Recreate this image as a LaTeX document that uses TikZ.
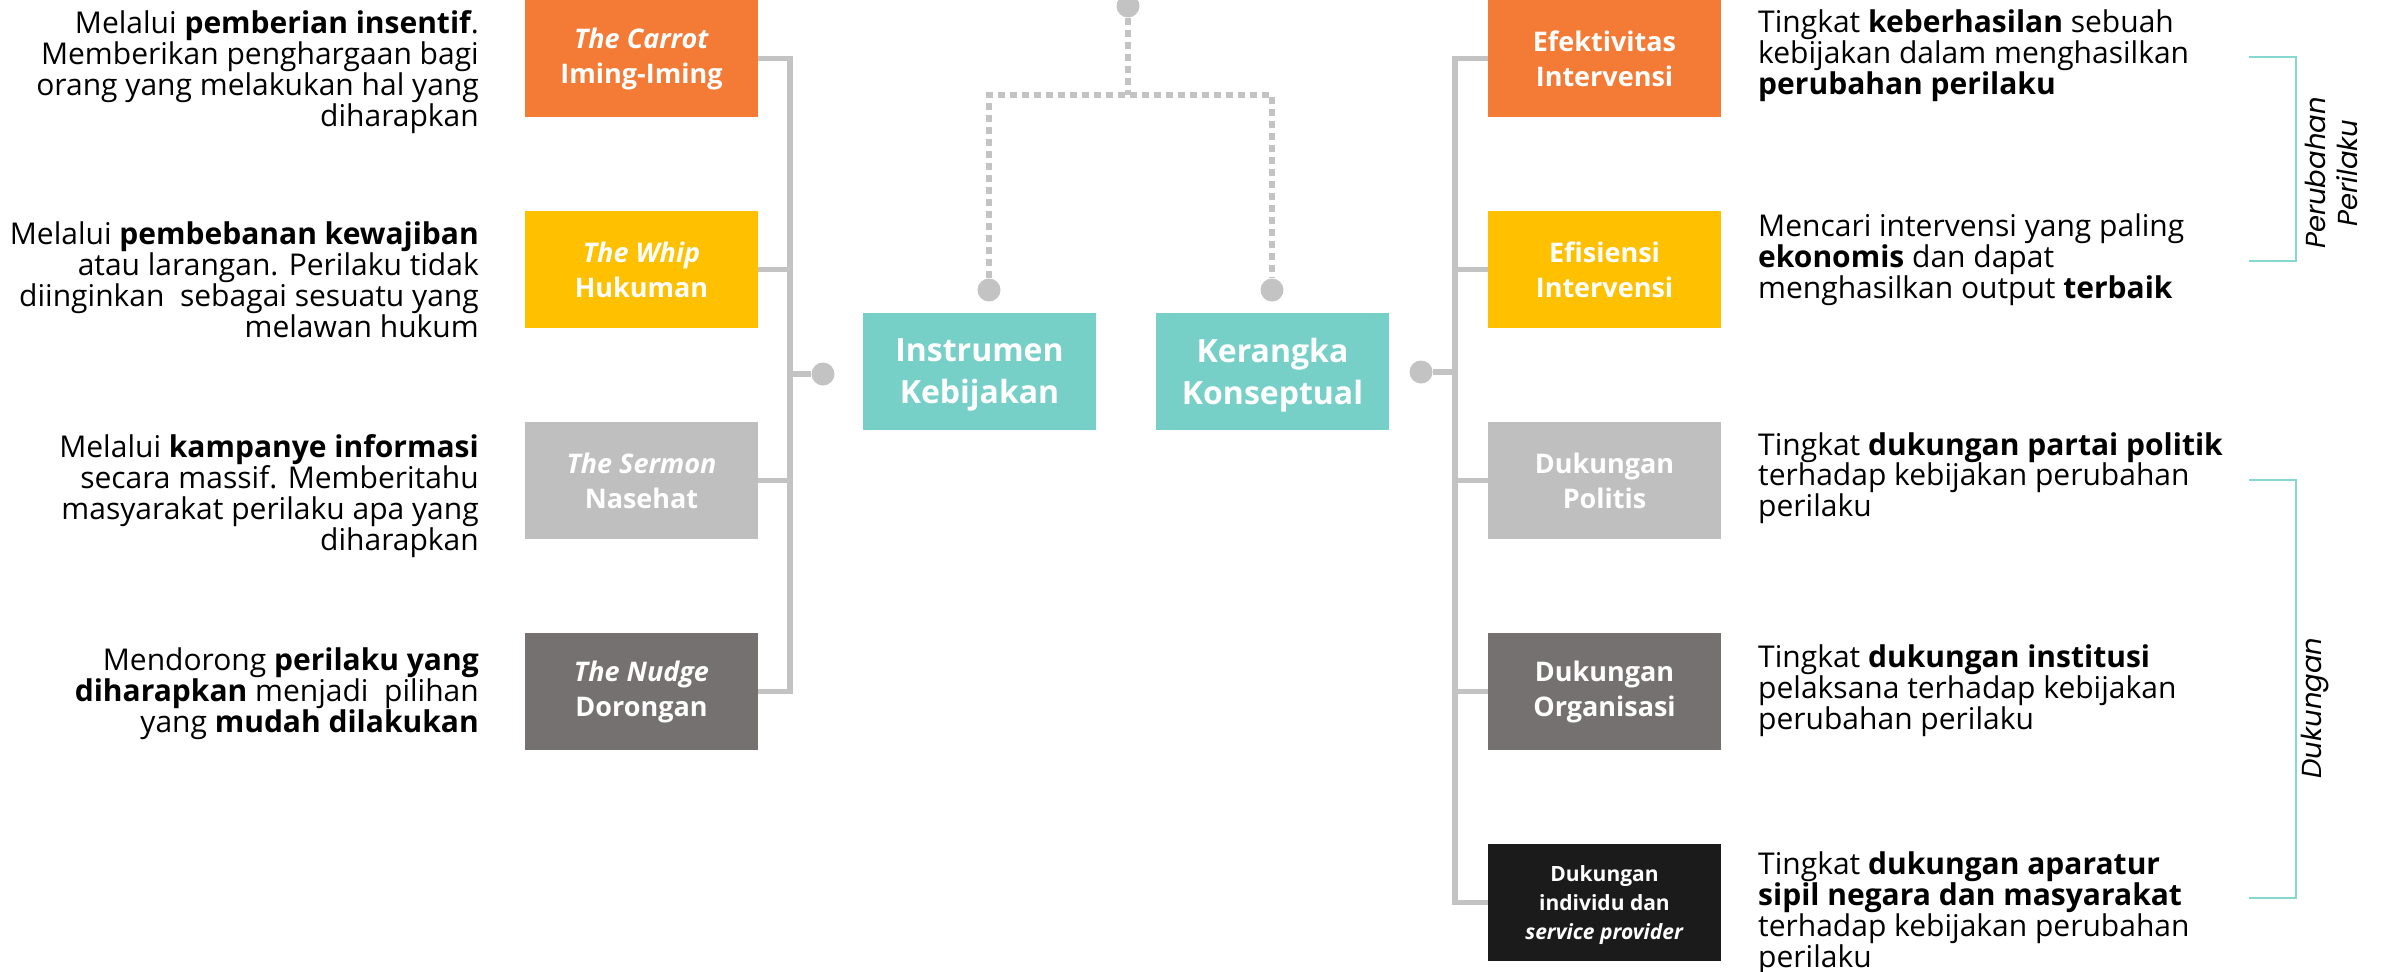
\documentclass[tikz,border=0pt]{standalone}
\usepackage{fontspec}
\setmainfont{Open Sans}
\newfontfamily\gothic{Poppins}
\usetikzlibrary{calc}

\definecolor{oranye}{HTML}{F47B36}
\definecolor{kuning}{HTML}{FFC000}
\definecolor{abuMuda}{HTML}{BFBFBF}
\definecolor{abuTua}{HTML}{767171}
\definecolor{hitam}{HTML}{1B1B1B}
\definecolor{tosca}{HTML}{77D0C8}
\definecolor{toscaMuda}{HTML}{86D7D0}
\definecolor{garisAbu}{HTML}{C3C3C3}

\tikzset{
  kotak/.style={minimum width=233pt, minimum height=117pt, inner sep=0pt, align=center, text=white, font=\fontsize{27}{35}\selectfont\bfseries},
  pusat/.style={kotak, fill=tosca, text depth=0pt, font=\fontsize{32}{42}\selectfont\bfseries},
  bulat/.style={circle, fill=garisAbu, minimum size=23pt, inner sep=0pt},
  garis/.style={garisAbu, line width=5.5pt},
  putus/.style={garisAbu, line width=5.5pt, dash pattern=on 7pt off 5pt},
  kurung/.style={toscaMuda, line width=2pt},
  ketKiri/.style={anchor=north east, align=right, inner sep=0pt, font=\fontsize{30}{31}\selectfont},
  ketKanan/.style={anchor=north west, align=left, inner sep=0pt, font=\fontsize{30}{31}\selectfont},
  miring/.style={rotate=90, align=center, inner sep=0pt, font=\fontsize{27.5}{32}\selectfont\gothic\itshape}
}

\begin{document}
\begin{tikzpicture}[x=1pt,y=-1pt]
\useasboundingbox (0,0) rectangle (2386,972);
% kotak kiri
\node[kotak,fill=oranye] (carrot) at (641.5,58.5) {\textit{The Carrot}\\Iming-Iming};
\node[kotak,fill=kuning] (whip) at (641.5,269.5) {\textit{The Whip}\\Hukuman};
\node[kotak,fill=abuMuda] (sermon) at (641.5,480.5) {\textit{The Sermon}\\Nasehat};
\node[kotak,fill=abuTua] (nudge) at (641.5,691.5) {\textit{The Nudge}\\Dorongan};
% kotak tengah
\node[pusat] (instrumen) at (979.5,371.5) {Instrumen\\Kebijakan};
\node[pusat] (kerangka) at (1272.5,371.5) {Kerangka\\Konseptual};
% kotak kanan
\node[kotak,fill=oranye] (efektif) at (1604.5,58.5) {Efektivitas\\Intervensi};
\node[kotak,fill=kuning] (efisien) at (1604.5,269.5) {Efisiensi\\Intervensi};
\node[kotak,fill=abuMuda] (politis) at (1604.5,480.5) {Dukungan\\Politis};
\node[kotak,fill=abuTua] (organisasi) at (1604.5,691.5) {Dukungan\\Organisasi};
\node[kotak,fill=hitam,text depth=0pt,font=\fontsize{21}{29}\selectfont\bfseries] (individu) at (1604.5,902.5) {Dukungan\\individu dan\\\textit{service provider}};

\node[bulat] (dotKiri) at (823,374) {};
\node[bulat] (dotKanan) at (1421,372) {};
\node[bulat] (dotAtas) at (1128,6) {};
\node[bulat] (dotInst) at (989,290) {};
\node[bulat] (dotKer) at (1272,290) {};

\coordinate (tulangKiri) at (790,374);
\coordinate (tulangKanan) at (1455,372);
\coordinate (cabang) at (1128,95);

\draw[garis] (carrot.east) -| (tulangKiri) |- (nudge.east);
\draw[garis] (whip.east) -- (whip.east -| tulangKiri);
\draw[garis] (sermon.east) -- (sermon.east -| tulangKiri);
\draw[garis] (tulangKiri) -- (dotKiri);

\draw[garis] (efektif.west) -| (tulangKanan) |- (individu.west);
\draw[garis] (efisien.west) -- (efisien.west -| tulangKanan);
\draw[garis] (politis.west) -- (politis.west -| tulangKanan);
\draw[garis] (organisasi.west) -- (organisasi.west -| tulangKanan);
\draw[garis] (tulangKanan) -- (dotKanan);

\draw[putus] (dotAtas) -- (cabang);
\draw[putus] (dotInst) |- (cabang) -| (dotKer);

% keterangan kiri
\node[ketKiri] (ketCarrot) at (479,10) {Melalui \textbf{pemberian insentif}.\\Memberikan penghargaan bagi\\orang yang melakukan hal yang\\diharapkan};
\node[ketKiri] (ketWhip) at (479,222) {Melalui \textbf{pembebanan kewajiban}\\atau larangan. Perilaku tidak\\diinginkan\ \ sebagai sesuatu yang\\melawan hukum};
\node[ketKiri] (ketSermon) at (479,434) {Melalui \textbf{kampanye informasi}\\secara massif. Memberitahu\\masyarakat perilaku apa yang\\diharapkan};
\node[ketKiri] (ketNudge) at (479,647) {Mendorong \textbf{perilaku yang}\\\textbf{diharapkan} menjadi\ \ pilihan\\yang \textbf{mudah dilakukan}};

% keterangan kanan
\node[ketKanan] (ketEfektif) at (1758,10) {Tingkat \textbf{keberhasilan} sebuah\\kebijakan dalam menghasilkan\\\textbf{perubahan perilaku}};
\node[ketKanan] (ketEfisien) at (1758,214) {Mencari intervensi yang paling\\\textbf{ekonomis} dan dapat\\menghasilkan output \textbf{terbaik}};
\node[ketKanan] (ketPolitis) at (1758,432) {Tingkat \textbf{dukungan partai politik}\\terhadap kebijakan perubahan\\perilaku};
\node[ketKanan] (ketOrganisasi) at (1758,644) {Tingkat \textbf{dukungan institusi}\\pelaksana terhadap kebijakan\\perubahan perilaku};
\node[ketKanan,font=\fontsize{30}{29.6}\selectfont] (ketIndividu) at (1758,851) {Tingkat \textbf{dukungan aparatur}\\\textbf{sipil negara dan masyarakat}\\terhadap kebijakan perubahan\\perilaku};

% kurung
\draw[kurung] (2249,57) -| (2296,261) -- (2249,261);
\node[miring] (lblPerubahan) at (2331,173) {Perubahan\\Perilaku};
\draw[kurung] (2249,480) -| (2296,898) -- (2249,898);
\node[miring] (lblDukungan) at (2315,708) {Dukungan};
\end{tikzpicture}
\end{document}
